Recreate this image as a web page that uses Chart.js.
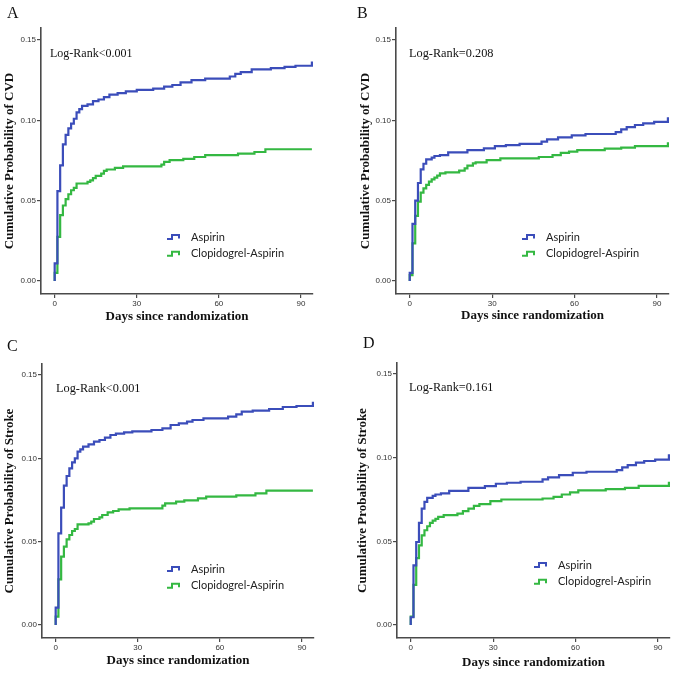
<!DOCTYPE html>
<html>
<head>
<meta charset="utf-8">
<script src="https://cdn.jsdelivr.net/npm/chart.js@4.4.1/dist/chart.umd.min.js"></script>
<style>
body { margin: 0; background: #fff; }
#wrap { position: relative; width: 675px; height: 674px; overflow: hidden; }
canvas { position: absolute; }
.tag { position: absolute; font-family: "Liberation Serif", "Times New Roman", serif; font-size: 16px; line-height: 1; color: #111; }
</style>
</head>
<body>
<div id="wrap">
  <canvas id="chartA" width="337" height="336" style="left:0;top:0"></canvas>
  <canvas id="chartB" width="338" height="336" style="left:337px;top:0"></canvas>
  <canvas id="chartC" width="337" height="338" style="left:0;top:336px"></canvas>
  <canvas id="chartD" width="338" height="338" style="left:337px;top:336px"></canvas>
  <div class="tag" style="left:7px;top:5px">A</div>
  <div class="tag" style="left:357px;top:5px">B</div>
  <div class="tag" style="left:7px;top:338px">C</div>
  <div class="tag" style="left:363px;top:335px">D</div>
</div>
<script>
// series labels and colours
const seriesNames = ["Aspirin", "Clopidogrel-Aspirin"];
const blue = "rgb(59, 77, 186)";
const green = "rgb(52, 184, 66)";

// axis ticks
const dayTicks = [0, 30, 60, 90];
const probTicks = [0, 0.05, 0.1, 0.15];

// A - CVD, Log-Rank<0.001
const aAspDays = [0, 0, 1, 2, 3, 4, 5, 6, 7, 8, 9, 10, 12, 14, 16, 18, 20, 23, 26, 30, 36, 40, 43, 46, 50, 55, 64, 66, 68, 72, 79, 84, 88, 94];
const aAspVals = [0, 0.011, 0.056, 0.072, 0.085, 0.091, 0.095, 0.098, 0.101, 0.105, 0.107, 0.109, 0.110, 0.112, 0.113, 0.1145, 0.116, 0.117, 0.118, 0.119, 0.1197, 0.121, 0.122, 0.1236, 0.125, 0.126, 0.1273, 0.129, 0.130, 0.1317, 0.1325, 0.1333, 0.134, 0.1366];
const aClopDays = [0, 0, 1, 2, 3, 4, 5, 6, 7, 8, 12, 13, 14, 15, 17, 18, 19, 22, 25, 39, 40, 42, 47, 51, 55, 67, 73, 77, 94];
const aClopVals = [0, 0.005, 0.0275, 0.041, 0.047, 0.051, 0.054, 0.0565, 0.058, 0.0607, 0.0617, 0.0627, 0.064, 0.0654, 0.0669, 0.0685, 0.0694, 0.0704, 0.0714, 0.0725, 0.0741, 0.0752, 0.076, 0.0772, 0.0783, 0.0793, 0.0803, 0.082, 0.082];

// B - CVD, Log-Rank=0.208
const bAspDays = [0, 0, 1, 2, 3, 4, 5, 6, 8, 9, 11, 14, 21, 27, 31, 35, 40, 48, 50, 54, 59, 64, 75, 77, 79, 82, 85, 89, 94];
const bAspVals = [0, 0.005, 0.0355, 0.050, 0.061, 0.0695, 0.073, 0.0757, 0.0768, 0.0778, 0.0784, 0.0801, 0.0815, 0.0826, 0.084, 0.0846, 0.0853, 0.0867, 0.0882, 0.0894, 0.0907, 0.0915, 0.0927, 0.0944, 0.0958, 0.0971, 0.0981, 0.099, 0.1019];
const bClopDays = [0, 0, 1, 2, 3, 4, 5, 6, 7, 8, 9, 10, 11, 13, 18, 20, 21, 23, 24, 28, 33, 47, 52, 55, 58, 61, 71, 77, 82, 94];
const bClopVals = [0, 0.0037, 0.0234, 0.0405, 0.0494, 0.055, 0.0577, 0.0598, 0.0618, 0.0633, 0.0643, 0.0656, 0.067, 0.0676, 0.0687, 0.0701, 0.0718, 0.0732, 0.0739, 0.0753, 0.0763, 0.0772, 0.0784, 0.0797, 0.0805, 0.0815, 0.0824, 0.083, 0.084, 0.0863];

// C - Stroke, Log-Rank<0.001
const cAspDays = [0, 0, 1, 2, 3, 4, 5, 6, 7, 8, 9, 10, 12, 14, 16, 18, 20, 22, 25, 28, 35, 39, 42, 45, 48, 50, 54, 63, 66, 68, 72, 78, 83, 88, 94];
const cAspVals = [0, 0.0104, 0.055, 0.0704, 0.0836, 0.0894, 0.094, 0.0976, 0.100, 0.104, 0.1054, 0.107, 0.1084, 0.110, 0.111, 0.1124, 0.114, 0.1148, 0.1156, 0.1162, 0.117, 0.118, 0.120, 0.121, 0.122, 0.123, 0.124, 0.125, 0.1264, 0.128, 0.1286, 0.1296, 0.1308, 0.1314, 0.134];
const cClopDays = [0, 0, 1, 2, 3, 4, 5, 6, 7, 8, 12, 13, 14, 16, 17, 19, 21, 23, 27, 39, 40, 44, 47, 52, 55, 66, 73, 77, 94];
const cClopVals = [0, 0.005, 0.0274, 0.041, 0.047, 0.0514, 0.054, 0.0564, 0.0576, 0.0604, 0.061, 0.062, 0.0636, 0.0646, 0.066, 0.0676, 0.0684, 0.0694, 0.070, 0.0716, 0.073, 0.074, 0.0748, 0.076, 0.077, 0.0778, 0.079, 0.0806, 0.0806];

// D - Stroke, Log-Rank=0.161
const dAspDays = [0, 0, 1, 2, 3, 4, 5, 6, 8, 9, 11, 14, 21, 27, 31, 35, 40, 48, 50, 54, 59, 64, 75, 77, 79, 82, 85, 89, 94];
const dAspVals = [0, 0.0046, 0.0356, 0.0496, 0.061, 0.0696, 0.0736, 0.076, 0.0772, 0.078, 0.0786, 0.0802, 0.082, 0.083, 0.0844, 0.085, 0.0856, 0.087, 0.0882, 0.0896, 0.091, 0.0916, 0.0926, 0.0942, 0.0956, 0.097, 0.098, 0.0988, 0.102];
const dClopDays = [0, 0, 1, 2, 3, 4, 5, 6, 7, 8, 9, 10, 12, 17, 19, 21, 23, 25, 29, 33, 48, 52, 55, 58, 61, 71, 78, 83, 94];
const dClopVals = [0, 0.005, 0.024, 0.040, 0.0476, 0.0536, 0.0566, 0.059, 0.061, 0.0624, 0.0634, 0.0646, 0.0656, 0.0666, 0.068, 0.0696, 0.0712, 0.0722, 0.074, 0.075, 0.0756, 0.0766, 0.078, 0.0792, 0.0804, 0.0812, 0.082, 0.0832, 0.0856];

const serif = '"Liberation Serif", "Times New Roman", serif';
const sans = '"Liberation Sans", Arial, sans-serif';

function toPoints(days, vals) {
	return days.map((d, i) => ({ x: d, y: vals[i] }));
}

// Log-Rank text + the little step-line legend inside the plot
const kmDecor = {
	id: "kmDecor",
	afterDatasetsDraw(chart, args, opts) {
		const ctx = chart.ctx;
		const area = chart.chartArea;
		ctx.save();
		ctx.textBaseline = "middle";
		ctx.textAlign = "left";
		ctx.fillStyle = "#111";
		ctx.font = opts.rankSize + "px " + serif;
		ctx.fillText(opts.rank, area.left + opts.rankX, area.top + opts.rankY);

		ctx.font = '11px Lato, "Open Sans", sans-serif';
		chart.data.datasets.forEach((ds, i) => {
			const x = area.left + opts.legX;
			const y = area.top + opts.legY + i * 16.7;
			ctx.strokeStyle = ds.borderColor;
			ctx.lineWidth = 2;
			ctx.beginPath();
			ctx.moveTo(x, y + 2);
			ctx.lineTo(x + 5, y + 2);
			ctx.lineTo(x + 5, y - 2);
			ctx.lineTo(x + 12, y - 2);
			ctx.lineTo(x + 12, y + 1.5);
			ctx.stroke();
			ctx.fillStyle = "#222";
			ctx.fillText(ds.label, x + 24, y);
		});
		ctx.restore();
	},
};

function panel(id, p) {
	const ctx = document.getElementById(id);
	const data = {
		datasets: [
			{
				label: seriesNames[0],
				data: toPoints(p.aspDays, p.aspVals),
				borderColor: blue,
			},
			{
				label: seriesNames[1],
				data: toPoints(p.clopDays, p.clopVals),
				borderColor: green,
			},
		],
	};
	data.datasets.forEach((ds) => {
		ds.stepped = "before";
		ds.borderWidth = 2.2;
		ds.pointRadius = 0;
		ds.fill = false;
	});

	const axisColor = "#4a4a4a";
	const config = {
		type: "line",
		data: data,
		plugins: [kmDecor],
		options: {
			responsive: false,
			animation: false,
			events: [],
			layout: { autoPadding: false, padding: p.pad },
			scales: {
				x: {
					type: "linear",
					min: -5,
					max: 94.4,
					afterBuildTicks: (s) => { s.ticks = dayTicks.map((v) => ({ value: v })); },
					afterFit: (s) => { s.height = p.xHeight; },
					ticks: { font: { family: sans, size: 8 }, color: "#333", padding: 1, maxRotation: 0 },
					grid: { drawOnChartArea: false, drawTicks: true, tickLength: 4, tickColor: axisColor, lineWidth: 1.2 },
					border: { display: true, color: axisColor, width: 1.6 },
					title: {
						display: true,
						text: "Days since randomization",
						font: { family: serif, size: 13, weight: "bold" },
						color: "#111",
						padding: { top: 0, bottom: p.xTitlePad },
					},
				},
				y: {
					min: p.yMin,
					max: p.yMax,
					afterBuildTicks: (s) => { s.ticks = probTicks.map((v) => ({ value: v })); },
					afterFit: (s) => { s.width = p.yWidth; },
					ticks: {
						font: { family: sans, size: 8 },
						color: "#333",
						padding: 1,
						callback: (v) => v.toFixed(2),
					},
					grid: { drawOnChartArea: false, drawTicks: true, tickLength: 4, tickColor: axisColor, lineWidth: 1.2 },
					border: { display: true, color: axisColor, width: 1.6 },
					title: {
						display: true,
						text: p.yTitle,
						font: { family: serif, size: 13, weight: "bold" },
						color: "#111",
						padding: { top: p.yTitlePad, bottom: 0 },
					},
				},
			},
			plugins: {
				legend: { display: false },
				tooltip: { enabled: false },
				kmDecor: p.decor,
			},
		},
	};
	new Chart(ctx, config);
}

panel("chartA", {
	aspDays: aAspDays, aspVals: aAspVals, clopDays: aClopDays, clopVals: aClopVals,
	yTitle: "Cumulative Probability of CVD",
	pad: { left: 0, top: 28, right: 24, bottom: 0 },
	yWidth: 41, xHeight: 42, yTitlePad: 2.2, xTitlePad: 12,
	yMin: -0.0081, yMax: 0.1575,
	decor: { rank: "Log-Rank<0.001", rankSize: 12, rankX: 9, rankY: 26, legX: 126, legY: 209 },
});

panel("chartB", {
	aspDays: bAspDays, aspVals: bAspVals, clopDays: bClopDays, clopVals: bClopVals,
	yTitle: "Cumulative Probability of CVD",
	pad: { left: 18, top: 28, right: 6, bottom: 0 },
	yWidth: 41, xHeight: 42, yTitlePad: 2.9, xTitlePad: 12.5,
	yMin: -0.0081, yMax: 0.1575,
	decor: { rank: "Log-Rank=0.208", rankSize: 12.3, rankX: 13, rankY: 26, legX: 126, legY: 209 },
});

panel("chartC", {
	aspDays: cAspDays, aspVals: cAspVals, clopDays: cClopDays, clopVals: cClopVals,
	yTitle: "Cumulative Probability of Stroke",
	pad: { left: 0, top: 28, right: 23, bottom: 0 },
	yWidth: 42, xHeight: 36, yTitlePad: 1.7, xTitlePad: 5.2,
	yMin: -0.0078, yMax: 0.1566,
	decor: { rank: "Log-Rank<0.001", rankSize: 12.3, rankX: 14, rankY: 25, legX: 125, legY: 205 },
});

panel("chartD", {
	aspDays: dAspDays, aspVals: dAspVals, clopDays: dClopDays, clopVals: dClopVals,
	yTitle: "Cumulative Probability of Stroke",
	pad: { left: 18, top: 27, right: 5, bottom: 0 },
	yWidth: 42, xHeight: 36, yTitlePad: 0.2, xTitlePad: 3.2,
	yMin: -0.0078, yMax: 0.1566,
	decor: { rank: "Log-Rank=0.161", rankSize: 12.3, rankX: 12, rankY: 25, legX: 137, legY: 202 },
});
</script>
</body>
</html>
